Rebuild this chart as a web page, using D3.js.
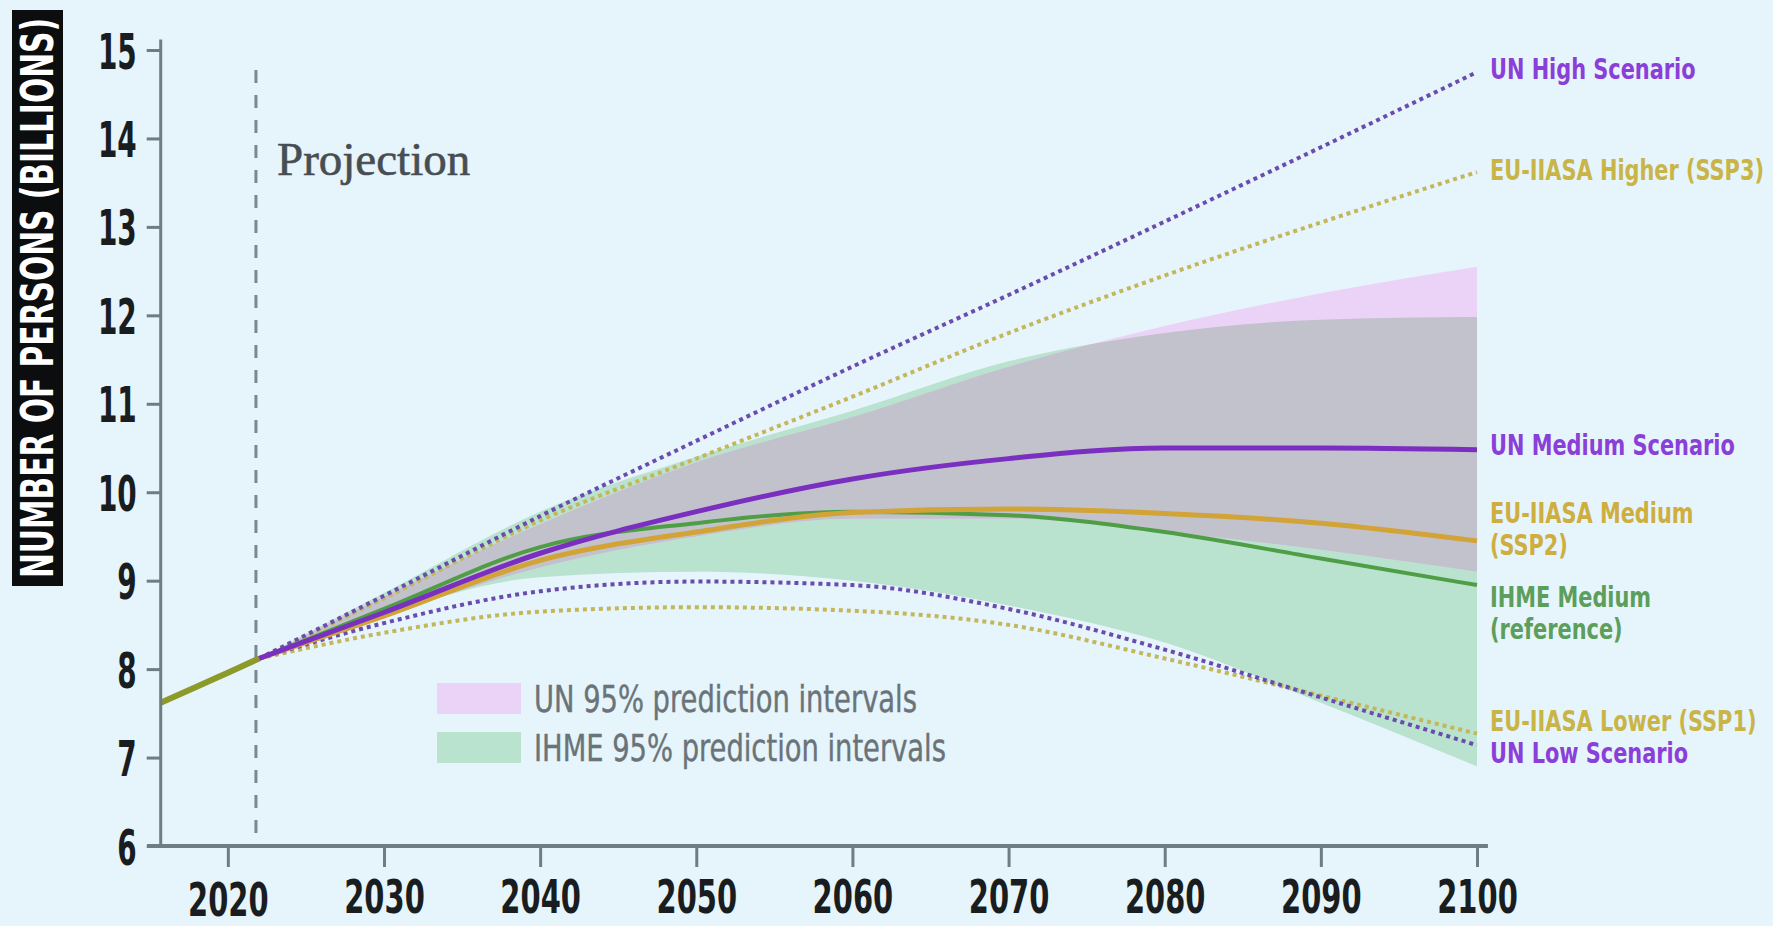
<!DOCTYPE html>
<html>
<head>
<meta charset="utf-8">
<script src="https://cdn.jsdelivr.net/npm/d3@7"></script>
<style>
  html, body { margin: 0; padding: 0; background: #e6f4fb; }
  svg { display: block; }
</style>
</head>
<body>
<svg id="chart" width="1773" height="926"></svg>
<script>
// ---- data (billions of persons) ----
const obsYears = [2015.7, 2018, 2020, 2022];
const observed = [7.62, 7.80, 7.96, 8.12];

const years = [2022, 2030, 2040, 2050, 2060, 2070, 2080, 2090, 2100];
const unHigh     = [8.12, 8.83, 9.73, 10.58, 11.42, 12.23, 13.06, 13.90, 14.75];
const euHigher   = [8.12, 8.80, 9.68, 10.38, 11.08, 11.80, 12.45, 13.05, 13.62];
const unMedium   = [8.12, 8.64, 9.31, 9.78, 10.15, 10.38, 10.50, 10.50, 10.48];
const euMedium   = [8.12, 8.60, 9.23, 9.55, 9.77, 9.81, 9.76, 9.65, 9.45];
const ihmeMedium = [8.12, 8.68, 9.38, 9.65, 9.78, 9.74, 9.55, 9.25, 8.95];
const unLow      = [8.12, 8.52, 8.88, 8.99, 8.95, 8.68, 8.22, 7.68, 7.14];
const euLower    = [8.12, 8.41, 8.65, 8.70, 8.66, 8.50, 8.12, 7.70, 7.27];

const unUpper    = [8.12, 8.82, 9.64, 10.34, 10.85, 11.42, 11.88, 12.25, 12.55];
const unLower    = [8.12, 8.60, 9.15, 9.50, 9.70, 9.70, 9.55, 9.35, 9.10];
const ihmeUpper  = [8.12, 8.86, 9.78, 10.40, 10.92, 11.48, 11.80, 11.95, 11.98];
const ihmeLower  = [8.12, 8.62, 9.04, 9.10, 9.00, 8.72, 8.30, 7.62, 6.90];

const xTicks = [2020, 2030, 2040, 2050, 2060, 2070, 2080, 2090, 2100];
const yTicks = [6, 7, 8, 9, 10, 11, 12, 13, 14, 15];

const legendLabels = ["UN 95% prediction intervals", "IHME 95% prediction intervals"];
const yTitle = "NUMBER OF PERSONS (BILLIONS)";

// ---- setup ----
const svg = d3.select("#chart");
const narrow = "'Liberation Sans Narrow', 'DejaVu Sans Condensed', 'Arial Narrow', sans-serif";
const axisColor = "#6e7c84";

const x = d3.scaleLinear().domain([2015.7, 2100]).range([160.7, 1477]);
const y = d3.scaleLinear().domain([6, 15]).range([846, 50]);

svg.append("rect").attr("width", 1773).attr("height", 926).attr("fill", "#e6f4fb");

const zip = (xs, ys) => xs.map((d, i) => [d, ys[i]]);

// ---- bands ----
const band = (lo, hi) => years.map((d, i) => ({ year: d, lo: lo[i], hi: hi[i] }));
const area = d3.area()
  .x(d => x(d.year))
  .y0(d => y(d.lo))
  .y1(d => y(d.hi))
  .curve(d3.curveMonotoneX);

const ihmeBand = band(ihmeLower, ihmeUpper);
const unBand = band(unLower, unUpper);

svg.append("clipPath").attr("id", "ihmeClip")
  .append("path").attr("d", area(ihmeBand));

svg.append("path").attr("d", area(ihmeBand)).attr("fill", "#b9e3cf");
svg.append("path").attr("d", area(unBand)).attr("fill", "#ebd3f8");
// overlap of the two intervals
svg.append("path").attr("d", area(unBand)).attr("fill", "#c2c2cc")
  .attr("clip-path", "url(#ihmeClip)");

// ---- projection marker ----
svg.append("line")
  .attr("x1", x(2021.8)).attr("x2", x(2021.8))
  .attr("y1", 70).attr("y2", y(6))
  .attr("stroke", "#7a8890").attr("stroke-width", 3)
  .attr("stroke-dasharray", "13,12");

svg.append("text")
  .attr("x", 277).attr("y", 175)
  .attr("font-family", "'Liberation Serif', 'DejaVu Serif', serif")
  .attr("font-size", 47)
  .attr("fill", "#474e53")
  .attr("stroke", "#474e53").attr("stroke-width", 0.6)
  .text("Projection");

// ---- lines ----
const line = d3.line().x(d => x(d[0])).y(d => y(d[1])).curve(d3.curveMonotoneX);

const dotted = [
  { values: euHigher, color: "#c4b65a" },
  { values: euLower,  color: "#c4b65a" },
  { values: unHigh,   color: "#6a4cae" },
  { values: unLow,    color: "#6a4cae" }
];
dotted.forEach(s => {
  svg.append("path")
    .attr("d", line(zip(years, s.values)))
    .attr("fill", "none")
    .attr("stroke", s.color)
    .attr("stroke-width", 4)
    .attr("stroke-dasharray", "4,4");
});

const solid = [
  { values: ihmeMedium, color: "#4f9e45", width: 4 },
  { values: euMedium,   color: "#d2a437", width: 5 },
  { values: unMedium,   color: "#7a2fc0", width: 5 }
];
solid.forEach(s => {
  svg.append("path")
    .attr("d", line(zip(years, s.values)))
    .attr("fill", "none")
    .attr("stroke", s.color)
    .attr("stroke-width", s.width);
});

svg.append("path")
  .attr("d", line(zip(obsYears, observed)))
  .attr("fill", "none")
  .attr("stroke", "#8c9a2a")
  .attr("stroke-width", 6);

// ---- axes ----
const yAxis = svg.append("g")
  .attr("transform", `translate(${x.range()[0]},0)`)
  .call(d3.axisLeft(y).tickValues(yTicks).tickSize(14).tickFormat(d3.format("d")))
  .call(g => g.select(".domain").remove());
yAxis.selectAll(".tick line").attr("stroke", axisColor).attr("stroke-width", 3);
yAxis.selectAll(".tick text")
  .attr("font-family", narrow).attr("font-weight", "bold").attr("font-size", 50)
  .attr("fill", "#1a1d20")
  .attr("transform", "scale(0.62,1)")
  .attr("x", -24 / 0.62)
  .attr("dy", "0.36em");

svg.append("line")
  .attr("x1", x.range()[0]).attr("x2", x.range()[0])
  .attr("y1", y(15.12)).attr("y2", y(6))
  .attr("stroke", axisColor).attr("stroke-width", 3);

const xAxis = svg.append("g")
  .attr("transform", `translate(0,${y(6)})`)
  .call(d3.axisBottom(x).tickValues(xTicks).tickSize(21).tickFormat(d3.format("d")))
  .call(g => g.select(".domain").remove());
xAxis.selectAll(".tick line").attr("stroke", axisColor).attr("stroke-width", 3);
xAxis.selectAll(".tick text")
  .attr("font-family", narrow).attr("font-weight", "bold").attr("font-size", 46)
  .attr("fill", "#1a1d20")
  .attr("transform", "scale(0.7,1)")
  .attr("dy", null)
  .attr("y", d => d === 2020 ? 70 : 67);

svg.append("line")
  .attr("x1", 147).attr("x2", x(2100.7))
  .attr("y1", y(6)).attr("y2", y(6))
  .attr("stroke", axisColor).attr("stroke-width", 4);

// ---- y title ----
svg.append("rect")
  .attr("x", 12).attr("y", 10).attr("width", 51).attr("height", 576)
  .attr("fill", "#0c0d0e");
svg.append("text")
  .attr("transform", "translate(53,298) rotate(-90)")
  .attr("text-anchor", "middle")
  .attr("font-family", narrow).attr("font-weight", "bold").attr("font-size", 45)
  .attr("fill", "#ffffff")
  .attr("textLength", 560).attr("lengthAdjust", "spacingAndGlyphs")
  .text(yTitle);

// ---- legend ----
const legendColors = ["#ebd3f8", "#b9e3cf"];
const legend = svg.append("g");
legendLabels.forEach((t, i) => {
  const top = 683 + i * 49;
  legend.append("rect")
    .attr("x", 437).attr("y", top).attr("width", 84).attr("height", 31)
    .attr("fill", legendColors[i]);
  legend.append("text")
    .attr("transform", `translate(534,${top + 29}) scale(0.8,1)`)
    .attr("font-family", narrow).attr("font-size", 38)
    .attr("fill", "#6a7378")
    .attr("stroke", "#6a7378").attr("stroke-width", 0.4)
    .text(t);
});

// ---- right-hand labels ----
const labelRows = [
  { text: "UN High Scenario",        color: "#8a3fd8", y: 69 },
  { text: "EU-IIASA Higher (SSP3)",  color: "#c9b448", y: 170 },
  { text: "UN Medium Scenario",      color: "#8a3fd8", y: 445 },
  { text: "EU-IIASA Medium",         color: "#cfae40", y: 513 },
  { text: "(SSP2)",                  color: "#cfae40", y: 545 },
  { text: "IHME Medium",             color: "#5c9e5c", y: 597 },
  { text: "(reference)",             color: "#5c9e5c", y: 629 },
  { text: "EU-IIASA Lower (SSP1)",   color: "#c9b448", y: 721 },
  { text: "UN Low Scenario",         color: "#8a3fd8", y: 753 }
];
svg.append("g").selectAll("text")
  .data(labelRows)
  .join("text")
  .attr("transform", d => `translate(1490,${d.y}) scale(0.8,1)`)
  .attr("dy", "0.36em")
  .attr("font-family", narrow).attr("font-weight", "bold").attr("font-size", 29)
  .attr("fill", d => d.color)
  .text(d => d.text);
</script>
</body>
</html>
